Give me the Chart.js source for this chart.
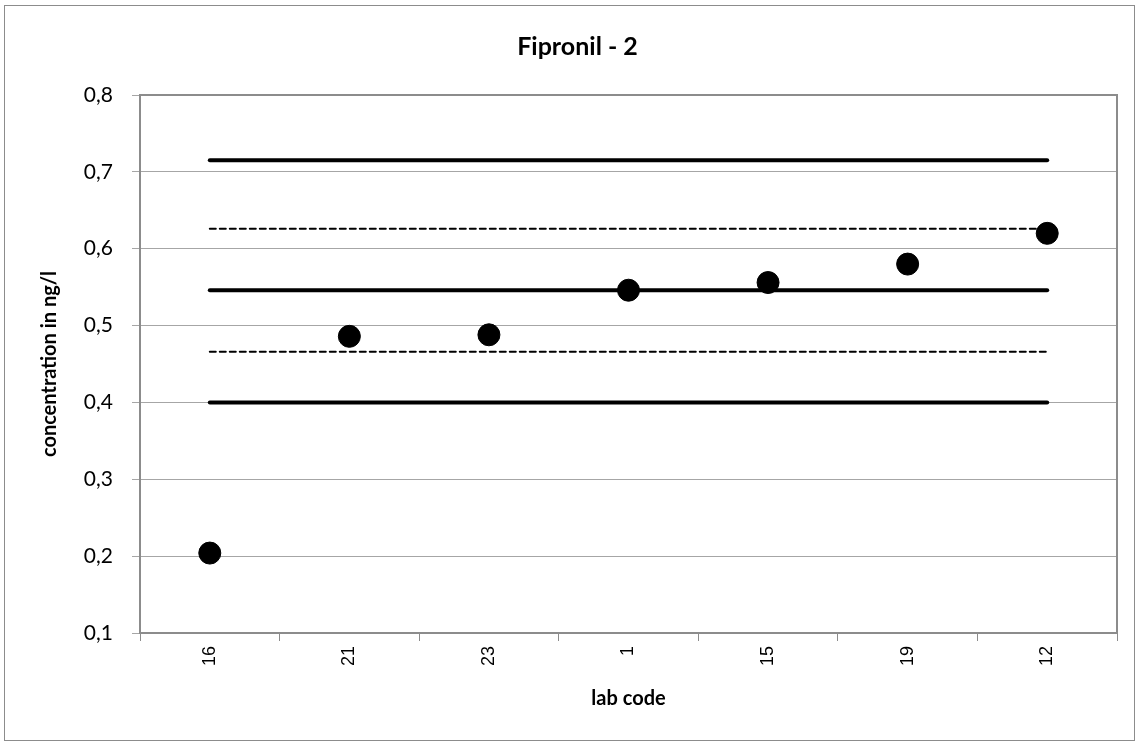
<!DOCTYPE html>
<html>
<head>
<meta charset="utf-8">
<script src="https://cdn.jsdelivr.net/npm/chart.js@4"></script>
<style>
  html, body { margin: 0; padding: 0; background: #fff; }
  #wrap { width: 1139px; height: 745px; }
</style>
</head>
<body>
<div id="wrap"><canvas id="c" width="1139" height="745"></canvas></div>
<script>
// lab codes in plot order
const labCodes = ['16', '21', '23', '1', '15', '19', '12'];
// reported concentrations (ng/l)
const results = [0.204, 0.486, 0.488, 0.546, 0.556, 0.580, 0.620];
// assigned value and limits
const assignedValue = 0.546;
const upperLimit = 0.715;
const lowerLimit = 0.400;
const upperDashed = 0.626;
const lowerDashed = 0.466;
const yTicks = [0.1, 0.2, 0.3, 0.4, 0.5, 0.6, 0.7, 0.8];

const FONT = 'Lato, "Open Sans", sans-serif';

function flat(v) { return labCodes.map(() => v); }

function refLine(v, dashed) {
    return {
        type: 'line',
        data: flat(v),
        borderColor: '#000',
        borderWidth: dashed ? 2 : 4,
        borderDash: dashed ? [6, 4] : [],
        borderCapStyle: 'round',
        pointRadius: 0,
        fill: false,
        order: 2
    };
}

// frame around the whole chart + plot area border + rotated x labels
const framePlugin = {
    id: 'frame',
    beforeDraw(chart) {
        const c = chart.ctx;
        c.save();
        c.fillStyle = '#fff';
        c.fillRect(0, 0, chart.width, chart.height);
        c.strokeStyle = '#8c8c8c';
        c.lineWidth = 1;
        c.strokeRect(4.5, 5.5, 1130, 735);
        c.restore();
    },
    afterDraw(chart) {
        const c = chart.ctx;
        const a = chart.chartArea;
        c.save();
        c.strokeStyle = '#8c8c8c';
        c.lineWidth = 2;
        c.beginPath();
        c.moveTo(a.left, a.top);
        c.lineTo(a.right, a.top);
        c.lineTo(a.right, a.bottom);
        c.stroke();
        // x tick labels, reading bottom to top
        const xs = chart.scales.x;
        c.fillStyle = '#000';
        c.font = '18px "Liberation Sans", Arial, sans-serif';
        c.textAlign = 'right';
        c.textBaseline = 'middle';
        labCodes.forEach((lab, i) => {
            const x = xs.getPixelForValue(i);
            c.save();
            c.translate(x, a.bottom + 13);
            c.rotate(-Math.PI / 2);
            c.fillText(lab, 0, 0);
            c.restore();
        });
        c.restore();
    }
};

new Chart(document.getElementById('c'), {
    type: 'line',
    data: {
        labels: labCodes,
        datasets: [
            refLine(upperLimit, false),
            refLine(upperDashed, true),
            refLine(assignedValue, false),
            refLine(lowerDashed, true),
            refLine(lowerLimit, false),
            {
                type: 'line',
                data: results,
                showLine: false,
                pointRadius: 11,
                pointHoverRadius: 11,
                pointBackgroundColor: '#000',
                pointBorderColor: '#000',
                order: 1
            }
        ]
    },
    options: {
        responsive: false,
        animation: false,
        layout: { padding: { left: 38, right: 22, top: 0, bottom: 5 } },
        plugins: {
            legend: { display: false },
            tooltip: { enabled: false },
            title: {
                display: true,
                text: 'Fipronil - 2',
                color: '#000',
                font: { family: FONT, size: 25, weight: 'bold', lineHeight: 1.2 },
                padding: { top: 32, bottom: 33 }
            }
        },
        scales: {
            x: {
                type: 'category',
                offset: true,
                grid: {
                    offset: true,
                    drawOnChartArea: false,
                    drawTicks: true,
                    tickLength: 8,
                    color: '#8c8c8c'
                },
                border: { color: '#8c8c8c', width: 2 },
                ticks: { display: false },
                title: {
                    display: true,
                    text: 'lab code',
                    color: '#000',
                    font: { family: FONT, size: 20, weight: 'bold', lineHeight: 1.2 },
                    padding: { top: 0, bottom: 29 }
                },
                afterFit(s) { s.height = 107; }
            },
            y: {
                min: 0.1,
                max: 0.8,
                afterBuildTicks(s) { s.ticks = yTicks.map(v => ({ value: v })); },
                grid: {
                    color: '#a6a6a6',
                    lineWidth: 1,
                    tickLength: 8
                },
                border: { color: '#8c8c8c', width: 2 },
                ticks: {
                    color: '#000',
                    padding: 19,
                    font: { family: FONT, size: 21 },
                    callback: v => v.toFixed(1).replace('.', ',')
                },
                title: {
                    display: true,
                    text: 'concentration in ng/l',
                    color: '#000',
                    font: { family: FONT, size: 20, weight: 'bold', lineHeight: 1.2 },
                    padding: { top: 0, bottom: 0 }
                },
                afterFit(s) { s.width = 102; }
            }
        }
    },
    plugins: [framePlugin]
});
</script>
</body>
</html>
